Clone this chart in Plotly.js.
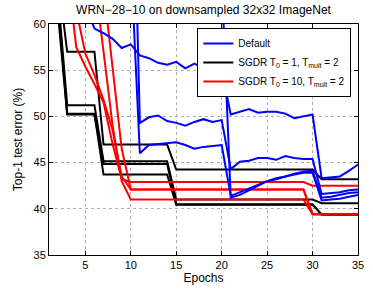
<!DOCTYPE html>
<html><head><meta charset="utf-8">
<script src="https://cdn.plot.ly/plotly-3.0.1.min.js"></script>
<style>html,body{margin:0;padding:0;background:#fff}#chart{width:373px;height:291px}</style>
</head><body><div id="chart"></div>
<script>
const epochs = [1,2,3,4,5,6,7,8,9,10,11,12,13,14,15,16,17,18,19,20,21,22,23,24,25,26,27,28,29,30,31,32,33,34,35];

// Default schedule (4 runs)
const default1 = [95,85,75,67,62,59.5,59.0,58.4,57.4,57.8,56.6,56.3,55.8,55.6,55.9,55.2,55.7,55.2,55.4,55.0,50.2,50.5,50.8,50.4,50.5,50.5,50.3,49.8,50.0,50.2,43.3,43.4,43.5,44.1,44.8];
const default2 = [98,95,93,91,90,89,88,88,88,88,49.3,49.9,50.1,49.5,49.3,49.0,49.4,49.7,49.4,49.6,44.3,45.1,45.2,45.5,45.5,45.3,45.7,45.5,45.4,45.4,41.6,41.7,41.8,42.0,42.1];
const default3 = [99,97,95,93,91,89,87,85,83,80,78,76,74,72,70,69,68,67,66,65,41.2,41.5,42.0,42.5,43.0,43.2,43.5,43.7,43.9,43.9,40.9,41.0,41.1,41.3,41.5];
const default4 = [97,93,90,87,84,81,78,75,72,67,46.0,46.9,47.0,47.1,47.2,46.9,46.5,46.7,46.8,46.9,41.4,41.8,42.2,42.6,43.0,43.3,43.5,43.8,44.0,44.1,41.2,41.3,41.5,41.7,41.8];

// SGDR T0=1, Tmult=2 (4 runs)
const sgdr1a = [80,65,57.0,57.0,57.0,57.0,46.95,46.95,46.95,46.95,46.95,46.95,46.95,46.95,44.25,44.25,44.25,44.25,44.25,44.25,44.25,44.25,44.25,44.25,44.25,44.25,44.25,44.25,44.25,44.25,43.2,43.2,43.2,43.2,43.2];
const sgdr1b = [78,63,51.2,51.2,51.2,51.2,45.15,45.15,45.15,45.15,45.15,45.15,45.15,45.15,41.0,41.0,41.0,41.0,41.0,41.0,41.0,41.0,41.0,41.0,41.0,41.0,41.0,41.0,41.0,41.0,40.6,40.6,40.6,40.6,40.6];
const sgdr1c = [76,61,50.2,50.2,50.2,50.2,44.85,44.85,44.85,44.85,44.85,44.85,44.85,44.85,40.5,40.5,40.5,40.5,40.5,40.5,40.5,40.5,40.5,40.5,40.5,40.5,40.5,40.5,40.5,40.5,39.4,39.4,39.4,39.4,39.4];
const sgdr1d = [77,62,50.3,50.3,50.3,50.3,43.7,43.7,43.7,43.7,43.7,43.7,43.7,43.7,40.45,40.45,40.45,40.45,40.45,40.45,40.45,40.45,40.45,40.45,40.45,40.45,40.45,40.45,40.45,40.45,39.35,39.35,39.35,39.35,39.35];

// SGDR T0=10, Tmult=2 (4 runs)
const sgdr10a = [85,75,66,57.5,55.4,53.5,51.5,47.0,43.2,42.9,42.9,42.9,42.9,42.9,42.9,42.9,42.9,42.9,42.9,42.9,42.9,42.9,42.9,42.9,42.9,42.9,42.9,42.9,42.9,42.5,42.5,42.5,42.5,42.5,42.5];
const sgdr10b = [88,78,70,61.5,56.8,54.5,51.8,48.5,43.5,42.1,42.1,42.1,42.1,42.1,42.1,42.1,42.1,42.1,42.1,42.1,42.1,42.1,42.1,42.1,42.1,42.1,42.1,42.1,42.1,39.4,39.4,39.4,39.4,39.4,39.4];
const sgdr10c = [95,90,85,78,71,65,57.0,49.0,43.0,41.0,41.0,41.0,41.0,41.0,41.0,41.0,41.0,41.0,41.0,41.0,41.0,41.0,41.0,41.0,41.0,41.0,41.0,41.0,41.0,39.4,39.4,39.4,39.4,39.4,39.4];
const sgdr10d = [97,93,89,84,78,72,64,55,46.5,42.1,42.1,42.1,42.1,42.1,42.1,42.1,42.1,42.1,42.1,42.1,42.1,42.1,42.1,42.1,42.1,42.1,42.1,42.1,42.1,39.4,39.4,39.4,39.4,39.4,39.4];

const legendNames = ['Default', 'SGDR T<sub>0</sub> = 1, T<sub>mult</sub> = 2', 'SGDR T<sub>0</sub> = 10, T<sub>mult</sub> = 2'];
const xTicks = [5,10,15,20,25,30,35];
const yTicks = [35,40,45,50,55,60];

const groups = [
  {name: legendNames[0], color: '#0000ff', series: [default1, default2, default3, default4]},
  {name: legendNames[1], color: '#000000', series: [sgdr1a, sgdr1b, sgdr1c, sgdr1d]},
  {name: legendNames[2], color: '#ff0000', series: [sgdr10a, sgdr10b, sgdr10c, sgdr10d]}
];
const drawOrder = [1, 2, 0];
const traces = [];
drawOrder.forEach(gi => {
  const g = groups[gi];
  g.series.forEach((s, i) => {
    traces.push({
      x: epochs, y: s, type: 'scatter', mode: 'lines',
      line: {color: g.color, width: 2},
      name: g.name, legendgroup: 'g' + gi, showlegend: i === 0,
      legendrank: gi + 1, hoverinfo: 'skip'
    });
  });
});

const font = 'Liberation Sans, Arial, Helvetica, sans-serif';
const axisCommon = {
  showline: true, linecolor: '#000', linewidth: 1, mirror: 'ticks',
  ticks: 'inside', ticklen: 4, tickcolor: '#000',
  showgrid: true, gridcolor: '#b0b0b0', griddash: 'dot', gridwidth: 1,
  zeroline: false, tickfont: {family: font, size: 11, color: '#000'}
};
const layout = {
  width: 373, height: 291,
  margin: {l: 49, r: 15, t: 24, b: 36},
  paper_bgcolor: '#fff', plot_bgcolor: '#fff',
  font: {family: font, color: '#000'},
  title: {text: 'WRN−28−10 on downsampled 32x32 ImageNet', font: {family: font, size: 12, color: '#000'},
          x: 0.5, xref: 'paper', y: 0.967, yref: 'container', yanchor: 'middle'},
  xaxis: Object.assign({}, axisCommon, {range: [1, 35], tickvals: xTicks,
          title: {text: 'Epochs', font: {family: font, size: 12}, standoff: 3}}),
  yaxis: Object.assign({}, axisCommon, {range: [35, 60], tickvals: yTicks,
          title: {text: 'Top-1 test error (%)', font: {family: font, size: 12}, standoff: 8}}),
  legend: {x: 0.48, y: 0.983, xanchor: 'left', yanchor: 'top', bgcolor: '#fff',
           bordercolor: '#000', borderwidth: 1, font: {family: font, size: 10, color: '#000'},
           traceorder: 'normal', tracegroupgap: 0, itemwidth: 30},
  showlegend: true
};
Plotly.newPlot('chart', traces, layout, {staticPlot: true, displayModeBar: false});
</script></body></html>
